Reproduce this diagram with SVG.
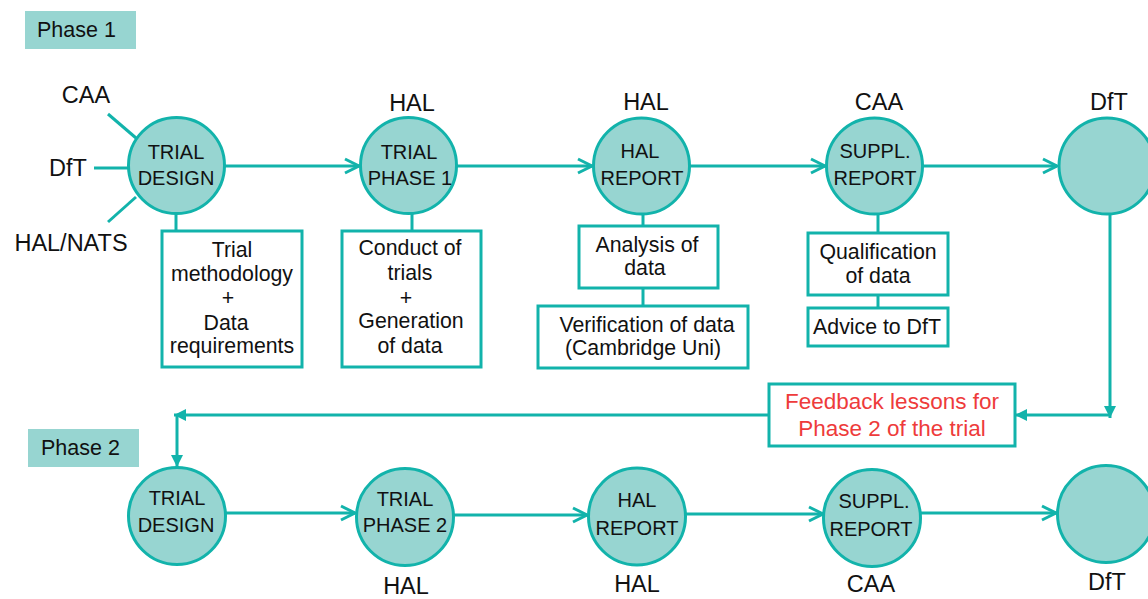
<svg xmlns="http://www.w3.org/2000/svg" width="1148" height="599" viewBox="0 0 1148 599">
<style>
.node{fill:#97d5d1;stroke:#12b3ab;stroke-width:3}
.box{fill:#ffffff;stroke:#12b3ab;stroke-width:3}
.phase{fill:#97d5d1}
.ln{stroke:#12b3ab;stroke-width:3;fill:none}
.ct{font-family:"Liberation Sans",Arial,sans-serif;font-size:20px;fill:#111;text-anchor:middle}
.bt{font-family:"Liberation Sans",Arial,sans-serif;font-size:21.3px;fill:#111;text-anchor:middle}
.lb{font-family:"Liberation Sans",Arial,sans-serif;font-size:23.5px;fill:#111;text-anchor:middle}
.ph{font-family:"Liberation Sans",Arial,sans-serif;font-size:21.5px;fill:#111}
.fb{font-family:"Liberation Sans",Arial,sans-serif;font-size:22.5px;fill:#ee3b3b;text-anchor:middle}
</style>
<defs>
<marker id="chev" markerUnits="userSpaceOnUse" markerWidth="20" markerHeight="20" viewBox="0 0 20 20" refX="16" refY="10" orient="auto">
<path d="M2,3 L16,10 L2,17" fill="none" stroke="#12b3ab" stroke-width="3"/>
</marker>
<marker id="tri" markerUnits="userSpaceOnUse" markerWidth="14" markerHeight="14" viewBox="0 0 14 14" refX="12" refY="7" orient="auto">
<path d="M0,1 L12,7 L0,13 z" fill="#12b3ab"/>
</marker>
</defs>

<g id="phase1">
<rect class="phase" x="25" y="11" width="111" height="38"/>
<text class="ph" x="37" y="37">Phase 1</text>
</g>
<g id="phase2">
<rect class="phase" x="28" y="429" width="111" height="38"/>
<text class="ph" x="41" y="455">Phase 2</text>
</g>

<g id="connectors">
<line class="ln" x1="108" y1="114" x2="136" y2="138"/>
<line class="ln" x1="94" y1="168" x2="128" y2="168"/>
<line class="ln" x1="108" y1="222" x2="136" y2="197"/>
<line class="ln" x1="225" y1="166" x2="359" y2="166" marker-end="url(#chev)"/>
<line class="ln" x1="457" y1="166" x2="592" y2="166" marker-end="url(#chev)"/>
<line class="ln" x1="690" y1="166" x2="825" y2="166" marker-end="url(#chev)"/>
<line class="ln" x1="923" y1="166" x2="1057" y2="166" marker-end="url(#chev)"/>
<line class="ln" x1="176" y1="214" x2="176" y2="231"/>
<line class="ln" x1="412" y1="214" x2="412" y2="231"/>
<line class="ln" x1="643" y1="214" x2="643" y2="226"/>
<line class="ln" x1="643" y1="288" x2="643" y2="306"/>
<line class="ln" x1="878" y1="214" x2="878" y2="233"/>
<line class="ln" x1="878" y1="295" x2="878" y2="308"/>
<line class="ln" x1="1110" y1="214" x2="1110" y2="418" marker-end="url(#tri)"/>
<line class="ln" x1="1110" y1="415" x2="1015" y2="415" marker-end="url(#tri)"/>
<line class="ln" x1="769" y1="415" x2="174" y2="415" marker-end="url(#tri)"/>
<line class="ln" x1="177" y1="415" x2="177" y2="467" marker-end="url(#tri)"/>
<line class="ln" x1="226" y1="513" x2="355" y2="513" marker-end="url(#chev)"/>
<line class="ln" x1="454" y1="515" x2="587" y2="515" marker-end="url(#chev)"/>
<line class="ln" x1="686" y1="514" x2="823" y2="514" marker-end="url(#chev)"/>
<line class="ln" x1="920" y1="513" x2="1056" y2="513" marker-end="url(#chev)"/>
</g>

<g id="lbl-caa"><text class="lb" x="86" y="103">CAA</text></g>
<g id="lbl-dft"><text class="lb" x="68" y="176">DfT</text></g>
<g id="lbl-halnats"><text class="lb" x="71" y="251">HAL/NATS</text></g>

<g id="n-trial-design-1">
<circle class="node" cx="176.5" cy="165.5" r="48"/>
<text class="ct" x="176" y="159">TRIAL</text>
<text class="ct" x="176" y="185">DESIGN</text>
</g>
<g id="n-trial-phase-1">
<text class="lb" x="412" y="111">HAL</text>
<circle class="node" cx="408.5" cy="165.5" r="48"/>
<text class="ct" x="409" y="159">TRIAL</text>
<text class="ct" x="410" y="185">PHASE 1</text>
</g>
<g id="n-hal-report-1">
<text class="lb" x="646" y="110">HAL</text>
<circle class="node" cx="641.5" cy="166" r="48"/>
<text class="ct" x="640" y="158">HAL</text>
<text class="ct" x="642" y="185">REPORT</text>
</g>
<g id="n-suppl-report-1">
<text class="lb" x="879" y="110">CAA</text>
<circle class="node" cx="874.5" cy="166" r="48"/>
<text class="ct" x="875" y="158">SUPPL.</text>
<text class="ct" x="875" y="185">REPORT</text>
</g>
<g id="n-dft-1">
<text class="lb" x="1109" y="110">DfT</text>
<circle class="node" cx="1107" cy="166" r="48"/>
</g>

<g id="b-trial-method">
<rect class="box" x="162" y="231" width="140" height="136"/>
<text class="bt" x="232" y="257">Trial</text>
<text class="bt" x="232" y="281">methodology</text>
<text class="bt" x="228" y="305">+</text>
<text class="bt" x="226" y="330">Data</text>
<text class="bt" x="232" y="353">requirements</text>
</g>
<g id="b-conduct">
<rect class="box" x="342" y="231" width="139" height="136"/>
<text class="bt" x="410" y="255">Conduct of</text>
<text class="bt" x="410" y="280">trials</text>
<text class="bt" x="406" y="305">+</text>
<text class="bt" x="411" y="328">Generation</text>
<text class="bt" x="410" y="353">of data</text>
</g>
<g id="b-analysis">
<rect class="box" x="579" y="226" width="139" height="62"/>
<text class="bt" x="647" y="252">Analysis of</text>
<text class="bt" x="645" y="275">data</text>
</g>
<g id="b-verification">
<rect class="box" x="538" y="306" width="210" height="62"/>
<text class="bt" x="647" y="332">Verification of data</text>
<text class="bt" x="643" y="355">(Cambridge Uni)</text>
</g>
<g id="b-qualification">
<rect class="box" x="808" y="233" width="140" height="62"/>
<text class="bt" x="878" y="259">Qualification</text>
<text class="bt" x="878" y="283">of data</text>
</g>
<g id="b-advice">
<rect class="box" x="808" y="308" width="140" height="38"/>
<text class="bt" x="877" y="334">Advice to DfT</text>
</g>

<g id="b-feedback">
<rect class="box" x="769" y="384" width="246" height="62"/>
<text class="fb" x="892" y="409">Feedback lessons for</text>
<text class="fb" x="892" y="436">Phase 2 of the trial</text>
</g>

<g id="n-trial-design-2">
<circle class="node" cx="177" cy="516" r="48.5"/>
<text class="ct" x="177" y="505">TRIAL</text>
<text class="ct" x="176" y="532">DESIGN</text>
</g>
<g id="n-trial-phase-2">
<circle class="node" cx="405" cy="517" r="48.5"/>
<text class="ct" x="405" y="506">TRIAL</text>
<text class="ct" x="405" y="532">PHASE 2</text>
<text class="lb" x="406" y="594">HAL</text>
</g>
<g id="n-hal-report-2">
<circle class="node" cx="637" cy="516.5" r="48.5"/>
<text class="ct" x="637" y="507">HAL</text>
<text class="ct" x="637" y="535">REPORT</text>
<text class="lb" x="637" y="592">HAL</text>
</g>
<g id="n-suppl-report-2">
<circle class="node" cx="872" cy="518" r="48.5"/>
<text class="ct" x="874" y="508">SUPPL.</text>
<text class="ct" x="871" y="536">REPORT</text>
<text class="lb" x="871" y="592">CAA</text>
</g>
<g id="n-dft-2">
<circle class="node" cx="1106" cy="514" r="48.5"/>
<text class="lb" x="1107" y="590">DfT</text>
</g>
</svg>
